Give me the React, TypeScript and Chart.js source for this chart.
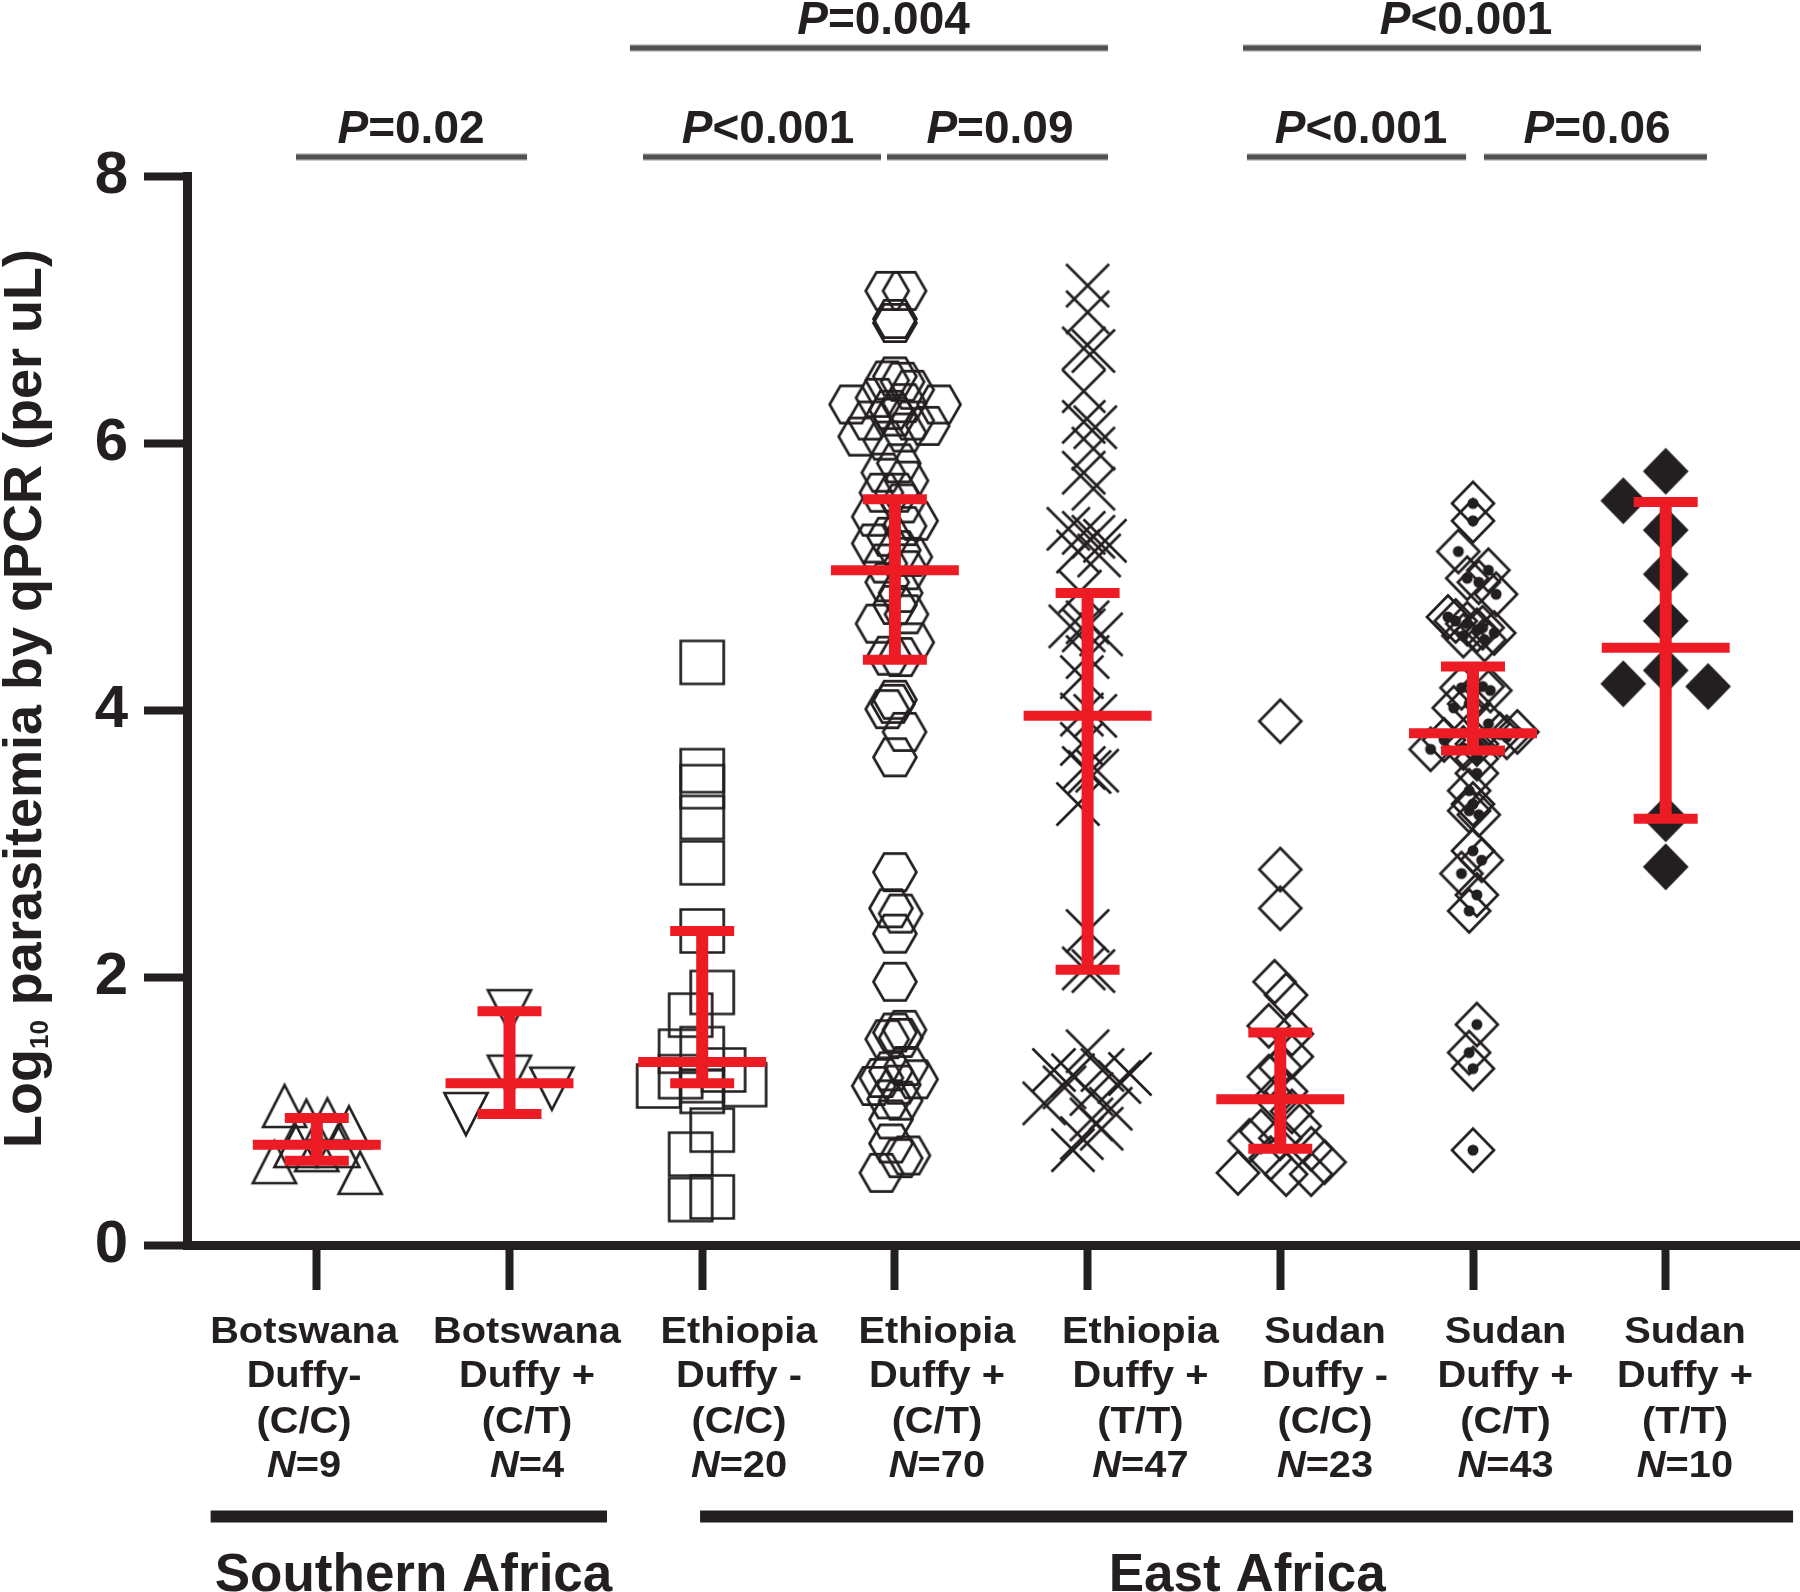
import { useEffect, useRef } from 'react';
import { Chart, registerables } from 'chart.js';

Chart.register(...registerables);

const FONT = '"Liberation Sans", Arial, Helvetica, sans-serif';
const INK = '#231f20';
const RED = '#ed1c24';

// ---------------- data ----------------
const categoryNames = ['Botswana', 'Botswana', 'Ethiopia', 'Ethiopia', 'Ethiopia', 'Sudan', 'Sudan', 'Sudan'];
const duffyStatus = ['Duffy-', 'Duffy +', 'Duffy -', 'Duffy +', 'Duffy +', 'Duffy -', 'Duffy +', 'Duffy +'];
const genotypes = ['(C/C)', '(C/T)', '(C/C)', '(C/T)', '(T/T)', '(C/C)', '(C/T)', '(T/T)'];
const sampleSizes = [9, 4, 20, 70, 47, 23, 43, 10];
const yTickValues = [0, 2, 4, 6, 8];

// Botswana Duffy- (C/C)
const botswanaCC = [1.04, 0.93, 0.94, 0.88, 0.62, 0.74, 0.71, 0.74, 0.54];
const botswanaCCJitter = [-0.167, -0.054, 0.055, 0.167, -0.22, -0.108, 0, 0.109, 0.225];

// Botswana Duffy+ (C/T)
const botswanaCT = [1.75, 1.26, 1.17, 0.98];
const botswanaCTJitter = [0, 0, 0.22, -0.226];

// Ethiopia Duffy- (C/C)
const ethiopiaCC = [4.36, 3.55, 3.43, 3.2, 2.86, 2.35, 1.89, 1.72, 1.47, 1.45, 1.15, 1.31, 1.26, 1.23, 1.2, 1.19, 0.86, 0.68, 0.36, 0.34];
const ethiopiaCCJitter = [0, 0, 0, 0, 0, 0, 0.052, -0.06, 0, -0.112, 0, 0.111, -0.112, 0, 0.22, -0.226, 0.052, -0.06, 0.052, -0.06];

// Ethiopia Duffy+ (C/T)
const ethiopiaCT = [
  7.14, 7.14, 6.93, 6.9,
  6.47, 6.46, 6.5, 6.4, 6.34, 6.29, 6.29, 6.25, 6.3, 6.17, 6.17, 6.13, 6.05, 6.08, 6.02, 6.2,
  5.78, 5.72, 5.85, 5.63, 5.63, 5.55, 5.45, 5.42, 5.38, 5.3, 5.25, 5.2, 5.15, 5.1, 5.05,
  4.96, 4.88, 4.79, 4.72, 4.65, 4.51, 4.41, 4.4,
  4.08, 4.05, 4.01, 3.84, 3.65,
  2.79, 2.52, 2.48, 2.33, 1.97, 1.61, 1.59, 1.54, 1.55, 1.34, 1.3, 1.25, 1.24, 1.19, 1.2, 1.09, 1.08, 0.94, 0.76, 0.67, 0.65, 0.54,
];
const ethiopiaCTJitter = [
  -0.04, 0.05, 0, 0,
  -0.04, 0.04, 0, 0.09, -0.09, -0.227, 0.229, -0.02, 0.05, -0.13, 0.09, 0.17, -0.18, 0.05, -0.05, 0,
  -0.06, 0.06, 0.02, -0.07, 0.01, 0.04, -0.11, 0.11, 0.05, -0.03, -0.11, 0.02, 0.08, -0.05, 0.06,
  -0.04, 0.03, 0, 0.06, -0.09, 0.09, -0.03, 0.03,
  0, -0.01, -0.04, 0.05, 0,
  0, -0.02, 0.03, 0, 0, 0.05, 0, -0.04, 0.03, 0.06, -0.02, -0.07, 0.11, -0.11, 0.02, -0.03, 0.03, -0.02, -0.02, 0.07, 0.03, -0.07,
];

// Ethiopia Duffy+ (T/T)
const ethiopiaTT = [
  7.18, 6.98, 6.71, 6.69, 6.39, 6.16, 6.12, 5.96, 5.78, 5.66,
  5.36, 5.33, 5.3, 5.27, 5.19, 5.16,
  4.89, 4.66, 4.63, 4.6, 4.57,
  4.4, 4.25,
  3.97, 3.96, 3.75,
  3.57, 3.55, 3.54,
  3.3,
  2.35, 2.07, 2.05,
  1.45, 1.31, 1.28, 1.06, 1.27, 1.31, 1.22, 0.71, 0.87, 1.13, 0.94, 1.18, 1.02, 0.8,
];
const ethiopiaTTJitter = [
  0, 0, -0.02, 0.03, -0.02, -0.02, 0.04, 0.03, -0.02, 0.03,
  -0.1, -0.02, 0.03, 0.09, -0.05, 0.06,
  -0.04, 0, -0.09, -0.02, 0.07,
  0, -0.03,
  -0.03, 0.04, -0.03,
  -0.02, 0.05, 0.01,
  -0.05,
  0, -0.02, 0.03,
  0, -0.175, 0.22, -0.225, -0.076, 0.077, 0.165, -0.076, 0.073, 0.02, 0.02, -0.12, 0.12, -0.03,
];

// Sudan Duffy- (C/C)
const sudanCC = [3.92, 2.81, 2.52, 1.97, 1.87, 1.64, 1.58, 1.41, 1.33, 1.26, 1.15, 1.1, 1.0, 0.89, 0.85, 0.8, 0.78, 0.72, 0.65, 0.62, 0.54, 0.53, 0.53];
const sudanCCJitter = [0, 0, 0, -0.03, 0.03, -0.06, 0.06, 0.06, 0, -0.06, 0.03, -0.03, 0.06, 0.1, -0.1, 0, -0.16, 0.16, -0.05, 0.23, -0.22, 0.03, 0.16];

// Sudan Duffy+ (C/T)
const sudanCT = [
  5.55, 5.42, 5.19, 5.05, 4.99, 4.96, 4.87,
  4.7, 4.67, 4.65, 4.62, 4.6, 4.58, 4.56, 4.53,
  4.18, 4.17, 4.15, 4.05, 4.02,
  3.84, 3.82, 3.8, 3.78, 3.75, 3.72, 3.71,
  3.9,
  3.64, 3.53, 3.4, 3.3, 3.25, 3.22,
  2.95, 2.88, 2.78, 2.62, 2.5,
  1.65, 1.44, 1.32, 0.71,
];
const sudanCTJitter = [
  0, 0, -0.076, 0.08, -0.03, 0.03, 0.12,
  -0.13, -0.09, -0.03, 0.05, 0.02, 0.11, -0.05, 0.06,
  0.05, -0.06, 0.09, -0.02, -0.1,
  0.23, 0.14, 0.175, -0.15, 0.02, -0.05, -0.22,
  0.08,
  0.02, 0.02, -0.02, 0, -0.02, 0.03,
  0, 0.045, -0.06, 0.02, -0.02,
  0.02, -0.02, 0, 0,
];

// Sudan Duffy+ (T/T)
const sudanTT = [5.79, 5.57, 5.35, 5.02, 4.67, 4.2, 4.3, 4.18, 3.19, 2.83];
const sudanTTJitter = [0, -0.22, 0, 0, 0, -0.22, 0, 0.22, 0, 0];

// red bars: median with interval
const medianValues = [0.75, 1.21, 1.37, 5.05, 3.96, 1.09, 3.83, 4.47];
const intervalLow = [0.63, 0.98, 1.21, 4.38, 2.06, 0.72, 3.7, 3.19];
const intervalHigh = [0.95, 1.75, 2.35, 5.58, 4.88, 1.59, 4.33, 5.56];

// comparisons
const pValueTexts = ['P=0.02', 'P<0.001', 'P=0.09', 'P=0.004', 'P<0.001', 'P=0.06', 'P<0.001'];
const pValueFrom = [-0.108, 1.693, 2.959, 1.625, 4.827, 6.057, 4.807];
const pValueTo = [1.091, 2.928, 4.106, 4.106, 5.964, 7.214, 7.183];
const pValueTier = [0, 0, 0, 1, 0, 0, 1];

// regions
const regionNames = ['Southern Africa', 'East Africa'];
const regionFrom = [-0.551, 1.989];
const regionTo = [1.506, 7.661];

// ---------------- layout / style ----------------
const W = 1800;
const H = 1592;
const PLOT_LEFT = 187;
const PLOT_TOP = 176;
const X_AXIS_BLOCK = 347;
const FIRST_TICK_PX = 316.8;
const TICK_SPACING_PX = 192.7;
const labelCenters = [-0.066, 1.091, 2.191, 3.218, 4.274, 5.232, 6.169, 7.1];
const pTextCenters = [0.489, 2.342, 3.545, 2.941, 5.419, 6.644, 5.964];
const regionLabelCenters = [0.502, 4.828];
const markerKinds = ['triUp', 'triDown', 'square', 'hexagon', 'cross', 'diamond', 'diamondDot', 'diamondFilled'];

const seriesValues = [botswanaCC, botswanaCT, ethiopiaCC, ethiopiaCT, ethiopiaTT, sudanCC, sudanCT, sudanTT];
const seriesJitter = [botswanaCCJitter, botswanaCTJitter, ethiopiaCCJitter, ethiopiaCTJitter, ethiopiaTTJitter, sudanCCJitter, sudanCTJitter, sudanTTJitter];

function makeMarker(kind: string): HTMLCanvasElement {
  const c = document.createElement('canvas');
  c.width = 52;
  c.height = 52;
  const g = c.getContext('2d') as CanvasRenderingContext2D;
  const m = 26;
  g.strokeStyle = INK;
  g.fillStyle = INK;
  g.lineWidth = 2.7;
  g.lineJoin = 'miter';
  g.beginPath();
  if (kind === 'triUp') {
    g.moveTo(m, m - 21);
    g.lineTo(m + 21.5, m + 21);
    g.lineTo(m - 21.5, m + 21);
    g.closePath();
    g.stroke();
  } else if (kind === 'triDown') {
    g.moveTo(m, m + 21);
    g.lineTo(m + 21.5, m - 21);
    g.lineTo(m - 21.5, m - 21);
    g.closePath();
    g.stroke();
  } else if (kind === 'square') {
    g.rect(m - 21.5, m - 21.5, 43, 43);
    g.stroke();
  } else if (kind === 'hexagon') {
    g.moveTo(m - 21.5, m);
    g.lineTo(m - 10.75, m - 18.6);
    g.lineTo(m + 10.75, m - 18.6);
    g.lineTo(m + 21.5, m);
    g.lineTo(m + 10.75, m + 18.6);
    g.lineTo(m - 10.75, m + 18.6);
    g.closePath();
    g.stroke();
  } else if (kind === 'cross') {
    g.moveTo(m - 21.5, m - 21.5);
    g.lineTo(m + 21.5, m + 21.5);
    g.moveTo(m + 21.5, m - 21.5);
    g.lineTo(m - 21.5, m + 21.5);
    g.stroke();
  } else {
    g.moveTo(m, m - 21.5);
    g.lineTo(m + 21, m);
    g.lineTo(m, m + 21.5);
    g.lineTo(m - 21, m);
    g.closePath();
    if (kind === 'diamondFilled') {
      g.fill();
      g.stroke();
    } else {
      g.stroke();
      if (kind === 'diamondDot') {
        g.beginPath();
        g.arc(m, m, 5.5, 0, Math.PI * 2);
        g.fill();
      }
    }
  }
  return c;
}

type Run = { text: string; font: string };

function drawRuns(ctx: CanvasRenderingContext2D, runs: Run[], cx: number, baseline: number) {
  const widths = runs.map((r) => {
    ctx.font = r.font;
    return ctx.measureText(r.text).width;
  });
  const total = widths.reduce((a, b) => a + b, 0);
  let x = cx - total / 2;
  runs.forEach((r, i) => {
    ctx.font = r.font;
    ctx.fillText(r.text, x, baseline);
    x += widths[i];
  });
}

const decorPlugin = {
  id: 'decor',
  beforeDraw(chart: any) {
    const ctx = chart.ctx as CanvasRenderingContext2D;
    ctx.save();
    ctx.fillStyle = '#ffffff';
    ctx.fillRect(0, 0, chart.width, chart.height);
    ctx.restore();
  },
  afterDraw(chart: any) {
    const ctx = chart.ctx as CanvasRenderingContext2D;
    const xs = chart.scales.x;
    const area = chart.chartArea;
    ctx.save();
    ctx.textAlign = 'left';
    ctx.textBaseline = 'alphabetic';
    ctx.fillStyle = INK;

    // extend x axis line to the right edge of the figure
    if (area.right < chart.width) {
      const top = Math.round(area.bottom - 4.5);
      ctx.fillRect(area.right - 4, top, chart.width - area.right + 4, 9);
    }

    // comparison brackets
    const pBold = `bold 46px ${FONT}`;
    const pItal = `italic bold 46px ${FONT}`;
    pValueTexts.forEach((t, i) => {
      const x1 = xs.getPixelForValue(pValueFrom[i]);
      const x2 = xs.getPixelForValue(pValueTo[i]);
      const ly = pValueTier[i] === 0 ? area.top - 19 : area.top - 128;
      ctx.lineCap = 'butt';
      ctx.strokeStyle = '#9a9b9d';
      ctx.lineWidth = 7;
      ctx.beginPath();
      ctx.moveTo(x1, ly);
      ctx.lineTo(x2, ly);
      ctx.stroke();
      ctx.strokeStyle = '#4f5052';
      ctx.lineWidth = 4.5;
      ctx.beginPath();
      ctx.moveTo(x1, ly);
      ctx.lineTo(x2, ly);
      ctx.stroke();
      ctx.fillStyle = INK;
      drawRuns(ctx, [{ text: t.slice(0, 1), font: pItal }, { text: t.slice(1), font: pBold }], xs.getPixelForValue(pTextCenters[i]), ly - 14);
    });

    // category labels
    const cBold = `bold 37px ${FONT}`;
    const cItal = `italic bold 37px ${FONT}`;
    const lineOffsets = [98, 142, 188, 232];
    for (let i = 0; i < categoryNames.length; i++) {
      const cx = xs.getPixelForValue(labelCenters[i]);
      ctx.save();
      ctx.translate(cx, 0);
      ctx.scale(1.075, 1);
      drawRuns(ctx, [{ text: categoryNames[i], font: cBold }], 0, area.bottom + lineOffsets[0]);
      drawRuns(ctx, [{ text: duffyStatus[i], font: cBold }], 0, area.bottom + lineOffsets[1]);
      drawRuns(ctx, [{ text: genotypes[i], font: cBold }], 0, area.bottom + lineOffsets[2]);
      drawRuns(ctx, [{ text: 'N', font: cItal }, { text: '=' + sampleSizes[i], font: cBold }], 0, area.bottom + lineOffsets[3]);
      ctx.restore();
    }

    // region bars and names
    regionNames.forEach((name, i) => {
      const x1 = xs.getPixelForValue(regionFrom[i]);
      const x2 = xs.getPixelForValue(regionTo[i]);
      ctx.fillStyle = INK;
      ctx.fillRect(x1, area.bottom + 265.5, x2 - x1, 12);
      drawRuns(ctx, [{ text: name, font: `bold 53px ${FONT}` }], xs.getPixelForValue(regionLabelCenters[i]), area.bottom + 346);
    });

    // y-axis title with subscript
    ctx.save();
    ctx.translate(area.left - 146, (area.top + area.bottom) / 2 - 12);
    ctx.rotate(-Math.PI / 2);
    const tBig = `bold 54px ${FONT}`;
    const tSub = `bold 26px ${FONT}`;
    const parts: { text: string; font: string; dy: number }[] = [
      { text: 'Log', font: tBig, dy: 0 },
      { text: '10', font: tSub, dy: 7 },
      { text: ' parasitemia by qPCR (per uL)', font: tBig, dy: 0 },
    ];
    const ws = parts.map((p) => {
      ctx.font = p.font;
      return ctx.measureText(p.text).width;
    });
    let tx = -ws.reduce((a, b) => a + b, 0) / 2;
    parts.forEach((p, i) => {
      ctx.font = p.font;
      ctx.fillText(p.text, tx, p.dy);
      tx += ws[i];
    });
    ctx.restore();

    ctx.restore();
  },
};

export default function App() {
  const ref = useRef<HTMLCanvasElement>(null);

  useEffect(() => {
    const canvas = ref.current;
    if (!canvas) return;

    const datasets: any[] = [];

    // error bars (drawn on top: lower order)
    const medianLines: any[] = [];
    const capLines: any[] = [];
    const stems: any[] = [];
    medianValues.forEach((m, i) => {
      medianLines.push({ x: i - 0.332, y: m }, { x: i + 0.332, y: m }, { x: i, y: null });
      capLines.push(
        { x: i - 0.166, y: intervalHigh[i] },
        { x: i + 0.166, y: intervalHigh[i] },
        { x: i, y: null },
        { x: i - 0.166, y: intervalLow[i] },
        { x: i + 0.166, y: intervalLow[i] },
        { x: i, y: null }
      );
      stems.push({ x: i, y: intervalLow[i] }, { x: i, y: intervalHigh[i] }, { x: i, y: null });
    });
    const lineBase = {
      showLine: true,
      pointRadius: 0,
      pointHoverRadius: 0,
      borderColor: RED,
      backgroundColor: RED,
      borderCapStyle: 'butt',
      borderJoinStyle: 'miter',
      spanGaps: false,
      tension: 0,
      order: 0,
      clip: false,
    };
    datasets.push({ ...lineBase, label: 'median', data: medianLines, borderWidth: 10 });
    datasets.push({ ...lineBase, label: 'caps', data: capLines, borderWidth: 10 });
    datasets.push({ ...lineBase, label: 'stems', data: stems, borderWidth: 12 });

    seriesValues.forEach((vals, gi) => {
      const marker = makeMarker(markerKinds[gi]);
      datasets.push({
        label: categoryNames[gi] + ' ' + genotypes[gi],
        data: vals.map((v, k) => ({ x: gi + seriesJitter[gi][k], y: v })),
        pointStyle: marker,
        pointRadius: 22,
        pointHoverRadius: 22,
        showLine: false,
        order: 1,
        clip: false,
      });
    });

    const initialMin = -(FIRST_TICK_PX - PLOT_LEFT) / TICK_SPACING_PX;
    const initialMax = initialMin + (W - PLOT_LEFT) / TICK_SPACING_PX;

    const chart = new Chart(canvas, {
      type: 'scatter',
      data: { datasets },
      plugins: [decorPlugin as any],
      options: {
        responsive: false,
        animation: false,
        devicePixelRatio: 1,
        events: [],
        layout: { padding: { top: PLOT_TOP, left: 0, right: 0, bottom: 0 } },
        plugins: { legend: { display: false }, tooltip: { enabled: false } },
        scales: {
          x: {
            type: 'linear',
            min: initialMin,
            max: initialMax,
            afterBuildTicks: (s: any) => {
              s.ticks = categoryNames.map((_, i) => ({ value: i }));
            },
            ticks: { display: true, callback: () => '' },
            grid: {
              drawOnChartArea: false,
              drawTicks: true,
              tickLength: 45,
              tickWidth: 8,
              tickColor: INK,
            },
            border: { display: true, width: 9, color: INK },
            afterFit: (s: any) => {
              s.height = X_AXIS_BLOCK;
            },
          },
          y: {
            type: 'linear',
            min: 0,
            max: 8,
            afterBuildTicks: (s: any) => {
              s.ticks = yTickValues.map((v) => ({ value: v }));
            },
            ticks: {
              padding: 16,
              color: INK,
              font: { family: FONT, size: 60, weight: 'bold' },
            },
            grid: {
              drawOnChartArea: false,
              drawTicks: true,
              tickLength: 43,
              tickWidth: 8,
              tickColor: INK,
            },
            border: { display: true, width: 9, color: INK },
            afterFit: (s: any) => {
              s.width = PLOT_LEFT;
            },
          },
        },
      } as any,
    });

    // keep category spacing fixed whatever space the layout leaves on the right
    const area = chart.chartArea;
    const xo: any = (chart.options as any).scales.x;
    const newMin = -(FIRST_TICK_PX - area.left) / TICK_SPACING_PX;
    xo.min = newMin;
    xo.max = newMin + (area.right - area.left) / TICK_SPACING_PX;
    chart.update();

    return () => chart.destroy();
  }, []);

  return (
    <div style={{ position: 'absolute', left: 0, top: 0, width: W, height: H, background: '#ffffff' }}>
      <canvas ref={ref} width={W} height={H} style={{ display: 'block', width: W, height: H }} />
    </div>
  );
}
